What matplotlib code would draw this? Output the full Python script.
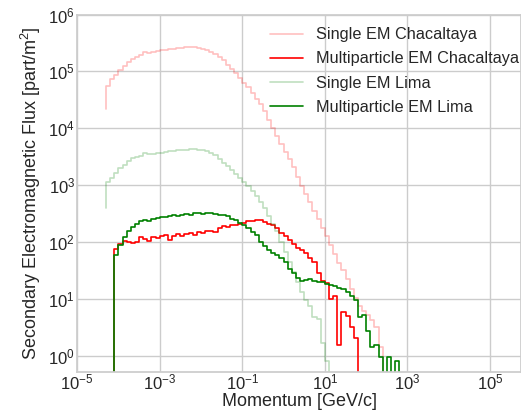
import numpy as np
import matplotlib
matplotlib.use("Agg")
import matplotlib.pyplot as plt
import seaborn as sns
from matplotlib.ticker import NullLocator

NONE = -np.inf  # empty bin

# log10 momentum bin edges (GeV/c), 0.1 decade wide
edges_log10 = np.round(np.arange(-4.3, 3.05, 0.1), 2)

# log10 flux values per bin (part/m^2)
single_chac_start = 4.34
single_chac = [
    4.74, 4.86, 4.94, 5.03, 5.10, 5.16, 5.22, 5.26, 5.29, 5.34,
    5.32, 5.34, 5.36, 5.37, 5.38, 5.39, 5.40, 5.41, 5.41, 5.42,
    5.42, 5.42, 5.41, 5.39, 5.37, 5.34, 5.30, 5.25, 5.20, 5.12,
    5.05, 4.97, 4.89, 4.80, 4.72, 4.62, 4.52, 4.42, 4.30, 4.15,
    4.01, 3.87, 3.72,
    3.58, 3.45, 3.31, 3.15, 2.99, 2.85, 2.71, 2.55, 2.40, 2.25,
    2.10, 1.94, 1.78, 1.63, 1.50, 1.35, 1.17, 1.02, 0.88, 0.78,
    0.72, 0.62, 0.50, 0.15, NONE, NONE, NONE, NONE, NONE, NONE,
]

multi_chac_start = NONE
multi_chac = [
    NONE, NONE, 1.88, 1.97, 2.02, 2.00, 1.98, 2.00, 2.08, 2.05,
    2.02, 2.09, 2.06, 2.10, 2.12, 2.04, 2.10, 2.14, 2.10, 2.13,
    2.16, 2.12, 2.17, 2.16, 2.19, 2.20, 2.18, 2.24, 2.28, 2.27,
    2.29, 2.30, 2.31, 2.34, 2.37, 2.37, 2.38, 2.38, 2.35, 2.32,
    2.29, 2.24, 2.15,
    2.10, 2.03, 1.97, 1.90, 1.86, 1.80, 1.71, 1.64, 1.45, 1.32,
    1.27, 1.00, 1.05, 0.18, 0.77, 0.70, 0.50, 0.30, NONE, NONE,
    NONE, NONE, NONE, NONE, NONE, NONE, NONE, NONE, NONE, NONE,
]

single_lima_start = 2.59
single_lima = [
    3.05, 3.13, 3.22, 3.30, 3.36, 3.42, 3.47, 3.49, 3.51, 3.56,
    3.54, 3.55, 3.56, 3.57, 3.58, 3.59, 3.60, 3.61, 3.62, 3.62,
    3.63, 3.63, 3.62, 3.61, 3.59, 3.57, 3.53, 3.46, 3.39, 3.33,
    3.27, 3.20, 3.13, 3.06, 2.98, 2.90, 2.80, 2.70, 2.59, 2.45,
    2.32, 2.20, 2.00,
    1.82, 1.65, 1.47, 1.30, 1.12, 0.98, 0.88, 0.68, 0.65, 0.22,
    -0.10, NONE, NONE, NONE, NONE, NONE, NONE, NONE, NONE, NONE,
    NONE, NONE, NONE, NONE, NONE, NONE, NONE, NONE, NONE, NONE,
]

multi_lima_start = NONE
multi_lima = [
    NONE, NONE, 1.77, 1.95, 2.08, 2.20, 2.27, 2.32, 2.36, 2.38,
    2.37, 2.41, 2.42, 2.44, 2.43, 2.45, 2.47, 2.46, 2.48, 2.49,
    2.48, 2.50, 2.50, 2.49, 2.51, 2.50, 2.49, 2.47, 2.47, 2.45,
    2.41, 2.38, 2.33, 2.29, 2.24, 2.17, 2.12, 2.00, 1.93, 1.86,
    1.81, 1.77, 1.71,
    1.65, 1.53, 1.45, 1.36, 1.31, 1.33, 1.35, 1.31, 1.30, 1.29,
    1.26, 1.24, 1.22, 1.19, 1.17, 1.11, 1.05, 0.98, 0.68, 0.71,
    0.43, 0.15, 0.18, -0.02, NONE, -0.02, NONE, -0.10, NONE, NONE,
]

labels = ["Single EM Chacaltaya", "Multiparticle EM Chacaltaya",
          "Single EM Lima", "Multiparticle EM Lima"]

sns.set_theme(style="whitegrid")
plt.rcParams["font.family"] = ["Liberation Sans", "DejaVu Sans"]
plt.rcParams["mathtext.fontset"] = "custom"
plt.rcParams["mathtext.rm"] = "Liberation Sans"
plt.rcParams["mathtext.it"] = "Liberation Sans:italic"

fig = plt.figure(figsize=(5.21, 4.12), dpi=100)
ax = fig.add_axes([0.148, 0.097, 0.852, 0.8678])

x = 10.0 ** edges_log10
series = [
    (single_chac_start, single_chac, dict(color="red", alpha=0.25, lw=1.2)),
    (multi_chac_start, multi_chac, dict(color="red", lw=1.2)),
    (single_lima_start, single_lima, dict(color="green", alpha=0.25, lw=1.2)),
    (multi_lima_start, multi_lima, dict(color="green", lw=1.2)),
]
for (start, vals, kw), lab in zip(series, labels):
    assert len(vals) == len(edges_log10) - 1
    y = 10.0 ** np.concatenate([[start], np.array(vals, dtype=float)])
    ax.step(x, y, where="pre", label=lab, **kw)

ax.set_xscale("log")
ax.set_yscale("log")
ax.set_xlim(1e-5, 10 ** 5.75)
ax.set_ylim(10 ** -0.29, 1e6)
ax.set_xticks([1e-5, 1e-3, 1e-1, 1e1, 1e3, 1e5])
ax.set_yticks([1e0, 1e1, 1e2, 1e3, 1e4, 1e5, 1e6])
ax.xaxis.set_minor_locator(NullLocator())
ax.yaxis.set_minor_locator(NullLocator())
ax.set_xlabel("Momentum [GeV/c]", fontsize=13, labelpad=0)
ax.set_ylabel("Secondary Electromagnetic Flux [part/m$^2$]", fontsize=13, labelpad=4)
ax.tick_params(axis="both", length=0)
ax.tick_params(axis="x", labelsize=12, pad=0.5)
ax.tick_params(axis="y", labelsize=12, pad=1.5)
ax.legend(loc="upper right", frameon=False, fontsize=11.7,
          bbox_to_anchor=(1.0, 0.971), borderaxespad=0, borderpad=0.15,
          labelspacing=0.56, handlelength=2.0)

fig.savefig("out.png", dpi=100)
